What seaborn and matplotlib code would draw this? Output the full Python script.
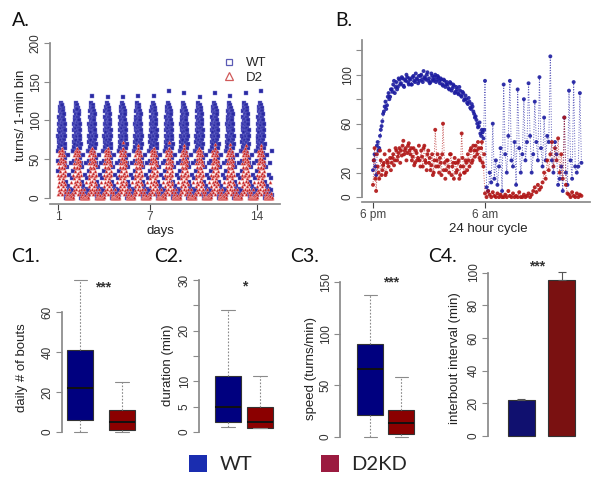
import numpy as np
import pandas as pd
import matplotlib.pyplot as plt
import seaborn as sns
from matplotlib.lines import Line2D
from matplotlib.patches import Patch

sns.set_theme(style='white')
plt.rcParams['font.family'] = ['Liberation Sans', 'DejaVu Sans']

W, H = 602, 486

# ---------------- data ----------------
# A. 14 days, per-minute turns (one typical night/day pattern repeated, plus daily peaks)
days = list(range(1, 15))
wt_day_peak = [120, 115, 132, 130, 130, 132, 132, 138, 135, 130, 135, 132, 135, 138]
d2_day_peak = [62, 60, 65, 60, 72, 68, 60, 72, 68, 62, 70, 70, 68, 68]
# night (6 pm - 6 am), one value per 15 min
a_night_wt = [35, 60, 48, 80, 72, 95, 66, 88,
              105, 78, 112, 92, 100, 70, 118, 85,
              96, 122, 75, 108, 90, 115, 62, 102,
              94, 120, 80, 110, 68, 98, 116, 86,
              104, 72, 112, 90, 58, 100, 82, 108,
              76, 95, 64, 88, 52, 80, 45, 70]
a_night_d2 = [5, 30, 15, 45, 25, 55, 10, 40,
              60, 20, 50, 35, 8, 58, 28, 45,
              62, 18, 38, 52, 12, 48, 30, 64,
              22, 55, 40, 5, 58, 32, 46, 15,
              50, 25, 60, 38, 10, 44, 28, 56,
              20, 48, 35, 8, 42, 18, 30, 12]
# light phase (6 am - 6 pm), one value per 30 min
a_light_wt = [5, 0, 20, 3, 40, 8, 0, 15, 55, 2, 10, 0,
              30, 5, 0, 12, 45, 0, 6, 25, 0, 10, 60, 3]
a_light_d2 = [0, 2, 0, 5, 0, 0, 8, 0, 1, 0, 12, 0,
              0, 3, 0, 0, 20, 0, 2, 0, 0, 6, 0, 1]

# B. 24 hour cycle from 6 pm, one value per 10 min
b_wt = [22, 35, 18, 45, 40, 55,
        62, 70, 78, 75, 85, 82,
        88, 92, 85, 94, 90, 96,
        93, 97, 90, 95, 98, 92,
        96, 92, 99, 94, 97, 93,
        95, 100, 94, 98, 96, 102,
        97, 94, 99, 95, 100, 96,
        98, 93, 96, 91, 95, 92,
        92, 88, 93, 89, 91, 86,
        88, 84, 87, 82, 85, 80,
        80, 76, 78, 72, 74, 68,
        66, 60, 58, 52, 55, 48,
        95, 8, 5, 20, 12, 60,
        15, 30, 10, 25, 40, 5,
        92, 35, 20, 50, 95, 30,
        25, 45, 10, 88, 40, 20,
        35, 80, 30, 45, 93, 50,
        20, 35, 78, 45, 30, 98,
        40, 25, 65, 30, 50, 45,
        115, 30, 20, 45, 35, 10,
        15, 25, 5, 65, 20, 10,
        87, 30, 15, 94, 25, 20,
        25, 85, 28]
b_d2 = [10, 40, 5, 25, 15, 30,
        22, 28, 18, 30, 25, 32,
        28, 35, 30, 38, 33, 40,
        38, 42, 35, 40, 36, 44,
        35, 30, 40, 28, 36, 32,
        30, 38, 25, 42, 28, 35,
        28, 22, 35, 20, 55, 30,
        25, 32, 18, 60, 28, 22,
        30, 20, 35, 25, 15, 28,
        22, 30, 18, 52, 25, 20,
        28, 35, 25, 40, 30, 38,
        42, 35, 40, 30, 45, 25,
        3, 0, 5, 2, 0, 4,
        1, 0, 3, 0, 2, 0,
        0, 2, 0, 5, 1, 0,
        3, 0, 1, 0, 4, 0,
        0, 2, 0, 1, 3, 0,
        2, 5, 8, 4, 10, 6,
        8, 12, 20, 15, 30, 22,
        35, 45, 25, 40, 30, 48,
        20, 35, 15, 65, 10, 3,
        2, 0, 4, 1, 0, 3,
        0, 2, 1]
# extra night readings, 5 min after each of the above (6 pm - 6 am)
b_wt_mid = [30, 25, 42, 38, 50, 58,
            68, 74, 72, 82, 80, 88,
            86, 95, 90, 88, 97, 92,
            98, 91, 96, 100, 94, 97,
            92, 98, 95, 101, 96, 99,
            99, 96, 103, 97, 100, 95,
            93, 101, 96, 98, 94, 99,
            95, 97, 92, 96, 90, 94,
            89, 94, 87, 92, 85, 90,
            85, 90, 83, 86, 79, 83,
            77, 81, 73, 76, 70, 65,
            63, 57, 61, 50, 53, 55]
b_d2_mid = [30, 15, 35, 20, 38, 18,
            26, 35, 20, 28, 38, 22,
            32, 26, 40, 30, 36, 28,
            34, 46, 38, 30, 42, 38,
            40, 33, 26, 38, 30, 42,
            25, 33, 40, 30, 22, 38,
            32, 26, 18, 30, 25, 35,
            20, 28, 35, 22, 15, 30,
            25, 35, 18, 28, 32, 20,
            28, 15, 25, 32, 20, 30,
            22, 30, 38, 28, 42, 33,
            38, 45, 32, 40, 28, 35]

# C1-C3 box summaries (whisker low, q1, median, q3, whisker high)
c1_wt = [0, 6, 22, 41, 76]
c1_d2 = [0, 1, 5, 11, 25]
c2_wt = [1, 2, 5, 11, 24]
c2_d2 = [0.8, 0.8, 2, 5, 11]
c3_wt = [0, 21, 66, 90, 137]
c3_d2 = [0, 3, 13, 26, 58]
# C4 interbout interval bars
c4_groups = ['WT', 'D2KD']
c4_mean = [22, 95.5]
c4_err = [0.5, 5]

WT_BOX, D2_BOX = '#00007f', '#8b0000'
AX_GRAY = '#8a8a8a'


def px_axes(left, top, right, bottom):
    return fig.add_axes([left / W, 1 - bottom / H, (right - left) / W, (bottom - top) / H])


def r_style(ax, yticks, ylabels, ybounds):
    sns.despine(ax=ax)
    ax.spines['left'].set_color(AX_GRAY)
    ax.spines['bottom'].set_color(AX_GRAY)
    ax.spines['left'].set_bounds(*ybounds)
    ax.set_yticks(yticks)
    ax.set_yticklabels(ylabels)
    ax.tick_params(axis='both', colors=AX_GRAY, labelcolor='#333333', length=4, width=0.8,
                   labelsize=8.5, pad=2, left=True, bottom=True)
    ax.tick_params(axis='y', labelrotation=90)
    for lab in ax.get_yticklabels():
        lab.set_va('center')
    ax.set_xlabel('')
    ax.set_ylabel('')


def fig_text(x, y, s, **kw):
    fig.text(x / W, 1 - y / H, s, **kw)


fig = plt.figure(figsize=(W / 100, H / 100), dpi=100)

# ---------------- A ----------------
rows = []
for d, pw, pd2 in zip(days, wt_day_peak, d2_day_peak):
    for i, v in enumerate(a_night_wt):
        rows.append((d + i * 0.5 / len(a_night_wt), v, 'WT'))
    for i, v in enumerate(a_light_wt):
        rows.append((d + 0.5 + i * 0.5 / len(a_light_wt), v, 'WT'))
    rows.append((d + 0.25, pw, 'WT'))
    for i, v in enumerate(a_night_d2):
        rows.append((d + i * 0.5 / len(a_night_d2), v, 'D2'))
    for i, v in enumerate(a_light_d2):
        rows.append((d + 0.5 + i * 0.5 / len(a_light_d2), v, 'D2'))
    rows.append((d + 0.25, pd2, 'D2'))
dfa = pd.DataFrame(rows, columns=['day', 'turns', 'geno'])

axA = px_axes(50, 37, 280, 204)
sns.scatterplot(data=dfa[dfa.geno == 'WT'], x='day', y='turns', marker='s', s=5,
                color='#2a2aa2', edgecolor='#7c7cd6', linewidth=0.3, ax=axA)
sns.scatterplot(data=dfa[dfa.geno == 'D2'], x='day', y='turns', marker='^', s=6,
                color='#c42a2a', edgecolor='#f2a0a0', linewidth=0.3, ax=axA)
axA.set_xlim(0.48, 15.5)
axA.set_ylim(-8, 208)
r_style(axA, [0, 50, 100, 150, 200], ['0', '50', '100', '150', '200'], (0, 200))
axA.set_xticks([1, 7, 14])
axA.set_xticklabels(['1', '7', '14'])
axA.tick_params(axis='x', colors='#444444', pad=1)
handles = [Line2D([], [], marker='s', ls='', mfc='none', mec='#5b5bb5', ms=5, mew=0.9),
           Line2D([], [], marker='^', ls='', mfc='none', mec='#d05a5a', ms=6, mew=0.9)]
axA.legend(handles, ['WT', 'D2'], loc='upper right', bbox_to_anchor=(0.97, 0.92), frameon=False,
           fontsize=9.5, handletextpad=0.3, labelspacing=0.2, borderpad=0)
fig_text(21, 115, 'turns/ 1-min bin', rotation=90, ha='center', va='center', fontsize=9.5, color='#222222')
fig_text(160, 231, 'days', ha='center', va='center', fontsize=9.5, color='#222222')

# ---------------- B ----------------
hours = [i / 6 for i in range(len(b_wt))]
hours_mid = [i / 6 + 1 / 12 for i in range(len(b_wt_mid))]
dfb = pd.DataFrame({'hour': hours + hours, 'turns': b_wt + b_d2,
                    'geno': ['WT'] * len(b_wt) + ['D2'] * len(b_d2)})
dfb_mid = pd.DataFrame({'hour': hours_mid + hours_mid, 'turns': b_wt_mid + b_d2_mid,
                        'geno': ['WT'] * len(b_wt_mid) + ['D2'] * len(b_d2_mid)})
axB = px_axes(362, 38, 590, 202)
for g, col in [('WT', '#1c1ca0'), ('D2', '#b01414')]:
    sub = dfb[dfb.geno == g]
    sns.lineplot(data=sub, x='hour', y='turns', color=col, lw=0.7, ls=':', alpha=0.7,
                 sort=False, ax=axB)
    sns.scatterplot(data=sub, x='hour', y='turns', color=col, s=8, marker='o',
                    edgecolor='none', alpha=0.9, ax=axB)
    sns.scatterplot(data=dfb_mid[dfb_mid.geno == g], x='hour', y='turns', color=col, s=8,
                    marker='o', edgecolor='none', alpha=0.9, ax=axB)
axB.set_xlim(-1.18, 23.25)
axB.set_ylim(-4, 130)
r_style(axB, [0, 20, 40, 60, 80, 100, 120], ['0', '20', '', '60', '', '100', ''], (0, 128))
axB.set_xticks([0, 12])
axB.set_xticklabels(['6 pm', '6 am'])
axB.tick_params(axis='x', colors='#444444', pad=1)
fig_text(488, 229, '24 hour cycle', ha='center', va='center', fontsize=9.5, color='#222222')

# ---------------- C1-C3 boxplots ----------------
def box_panel(rect, wt, d2, xlim, ylim, widths, yticks, ylabels, ybounds):
    ax = px_axes(*rect)
    stats = []
    for vals in (wt, d2):
        lo, q1, med, q3, hi = vals
        stats.append(dict(whislo=lo, q1=q1, med=med, q3=q3, whishi=hi, fliers=[]))
    bp = ax.bxp(stats, positions=[1, 2], widths=widths, patch_artist=True, showfliers=False,
                boxprops=dict(edgecolor='#333333', linewidth=0.8),
                whiskerprops=dict(color=AX_GRAY, linestyle=(0, (1.5, 1.5)), linewidth=0.8),
                capprops=dict(color=AX_GRAY, linewidth=0.8),
                medianprops=dict(color='#111111', linewidth=1.4), capwidths=widths * 0.5)
    for patch, col in zip(bp['boxes'], [WT_BOX, D2_BOX]):
        patch.set_facecolor(col)
    ax.set_xlim(*xlim)
    ax.set_ylim(*ylim)
    r_style(ax, yticks, ylabels, ybounds)
    ax.spines['bottom'].set_visible(False)
    ax.set_xticks([])
    return ax


box_panel((62, 274, 143, 438), c1_wt, c1_d2, (0.571, 2.5), (-3, 79), 0.62,
          [0, 20, 40, 60], ['0', '20', '40', '60'], (0, 60))
box_panel((199, 275, 290, 437), c2_wt, c2_d2, (0.094, 2.94), (-1, 31), 0.84,
          [0, 5, 10, 15, 20, 25, 30], ['0', '5', '10', '', '20', '', '30'], (0, 30))
box_panel((340, 280, 425, 442), c3_wt, c3_d2, (0.032, 2.77), (-5, 152), 0.84,
          [0, 50, 100, 150], ['0', '50', '100', '150'], (0, 150))

# ---------------- C4 bars ----------------
axC4 = px_axes(488, 266, 590, 441)
sns.barplot(x=c4_groups, y=c4_mean, hue=c4_groups, palette=[WT_BOX, D2_BOX], legend=False,
            width=0.667, edgecolor='#333333', linewidth=0.8, ax=axC4)
axC4.errorbar([0, 1], c4_mean, yerr=[[0, 0], c4_err], fmt='none', ecolor='#555555',
              elinewidth=0.8, capsize=3, capthick=0.8)
axC4.set_xlim(-0.815, 1.70)
axC4.set_ylim(-3, 104)
r_style(axC4, [0, 20, 40, 60, 80, 100], ['0', '20', '40', '60', '80', '100'], (0, 100))
axC4.spines['bottom'].set_visible(False)
axC4.set_xticks([])

# ---------------- text ----------------
lab_kw = dict(fontsize=14, family=['Lato', 'DejaVu Sans'], color='#111111', va='center', ha='left')
fig_text(12, 20, 'A.', **lab_kw)
fig_text(335, 20, 'B.', **lab_kw)
fig_text(11, 257, 'C1.', **lab_kw)
fig_text(154, 257, 'C2.', **lab_kw)
fig_text(290, 257, 'C3.', **lab_kw)
fig_text(428, 256, 'C4.', **lab_kw)

ylab_kw = dict(rotation=90, ha='center', va='center', fontsize=9.5, color='#222222')
fig_text(22, 368, 'daily # of bouts', **ylab_kw)
fig_text(168, 365, 'duration (min)', **ylab_kw)
fig_text(311, 368, 'speed (turns/min)', **ylab_kw)
fig_text(455, 358, 'interbout interval (min)', **ylab_kw)

sig_kw = dict(ha='center', va='center', fontsize=10, color='#333333', fontweight='bold')
fig_text(103, 287, '***', **sig_kw)
fig_text(245, 286, '*', **sig_kw)
fig_text(391, 282, '***', **sig_kw)
fig_text(537, 266, '***', **sig_kw)

fig.legend([Patch(facecolor='#1a2db0', edgecolor='none'), Patch(facecolor='#9b1b40', edgecolor='none')],
           ['WT', 'D2KD'], loc='center', bbox_to_anchor=(0.495, 1 - 464 / H), ncol=2, frameon=False,
           prop=dict(family=['Lato', 'DejaVu Sans'], size=14.5), handlelength=0.9, handleheight=0.9,
           handletextpad=0.6, columnspacing=3.4)

fig.savefig('out.png', dpi=100)
